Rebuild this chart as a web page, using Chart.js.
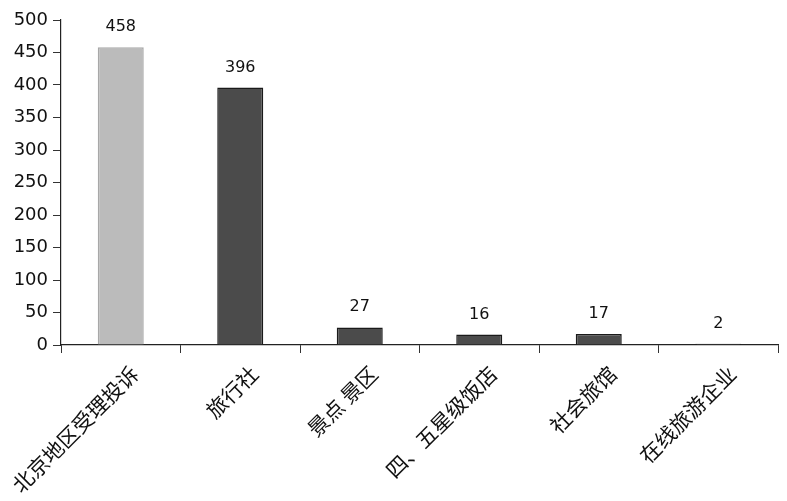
<!DOCTYPE html>
<html lang="zh">
<head>
  <meta charset="UTF-8">
  <title>投诉分布</title>
  <script src="https://cdn.jsdelivr.net/npm/chart.js"></script>
  <style>
    html, body { margin: 0; padding: 0; background: #ffffff; }
    #wrap { width: 787px; height: 501px; }
  </style>
</head>
<body>
  <div id="wrap"><canvas id="chart" width="787" height="501"></canvas></div>

  <script>
    // data
    const categories = ["北京地区受理投诉", "旅行社", "景点 景区", "四、五星级饭店", "社会旅馆", "在线旅游企业"];
    const counts = [458, 396, 27, 16, 17, 2];
    const yTicks = [0, 50, 100, 150, 200, 250, 300, 350, 400, 450, 500];

    const fills = counts.map((v, i) => i === 0 ? "#bbbbbb" : "#4b4b4b");
    const borders = counts.map((v, i) => i === 0 ? "#a8a8a8" : "#1a1a1a");

    // numbers above each bar
    const valueLabels = {
      id: "valueLabels",
      afterDatasetsDraw(chart) {
        const ctx = chart.ctx;
        const meta = chart.getDatasetMeta(0);
        ctx.save();
        ctx.font = "16px 'DejaVu Sans'";
        ctx.fillStyle = "#111";
        ctx.textAlign = "center";
        ctx.textBaseline = "alphabetic";
        meta.data.forEach((bar, i) => {
          ctx.fillText(String(counts[i]), bar.x, bar.y - 16);
        });
        ctx.restore();
      }
    };

    new Chart(document.getElementById("chart"), {
      type: "bar",
      data: {
        labels: categories,
        datasets: [{
          data: counts,
          backgroundColor: fills,
          borderColor: borders,
          borderWidth: 1.5,
          categoryPercentage: 1,
          barPercentage: 0.385
        }]
      },
      options: {
        responsive: false,
        animation: false,
        layout: { padding: { top: 20, right: 9, left: 0, bottom: 0 } },
        plugins: {
          legend: { display: false },
          tooltip: { enabled: false }
        },
        scales: {
          x: {
            afterFit(scale) {
              scale.height = 156;
              scale.paddingLeft = 0;
              scale.paddingRight = 0;
            },
            grid: {
              offset: true,
              drawOnChartArea: false,
              drawTicks: true,
              tickLength: 8,
              color: "#333"
            },
            border: { display: true, color: "#222", width: 1.2 },
            ticks: {
              autoSkip: false,
              maxRotation: 45,
              minRotation: 45,
              padding: 8,
              labelOffset: 14,
              color: "#111",
              font: { family: "'Noto Sans CJK SC'", size: 21 }
            }
          },
          y: {
            min: 0,
            max: 500,
            afterFit(scale) { scale.width = 61; },
            afterBuildTicks(scale) { scale.ticks = yTicks.map(v => ({ value: v })); },
            grid: {
              drawOnChartArea: false,
              drawTicks: true,
              tickLength: 8,
              color: "#333"
            },
            border: { display: true, color: "#222", width: 1.2 },
            ticks: {
              padding: 5,
              color: "#111",
              font: { family: "'DejaVu Sans'", size: 18 }
            }
          }
        }
      },
      plugins: [valueLabels]
    });
  </script>
</body>
</html>
